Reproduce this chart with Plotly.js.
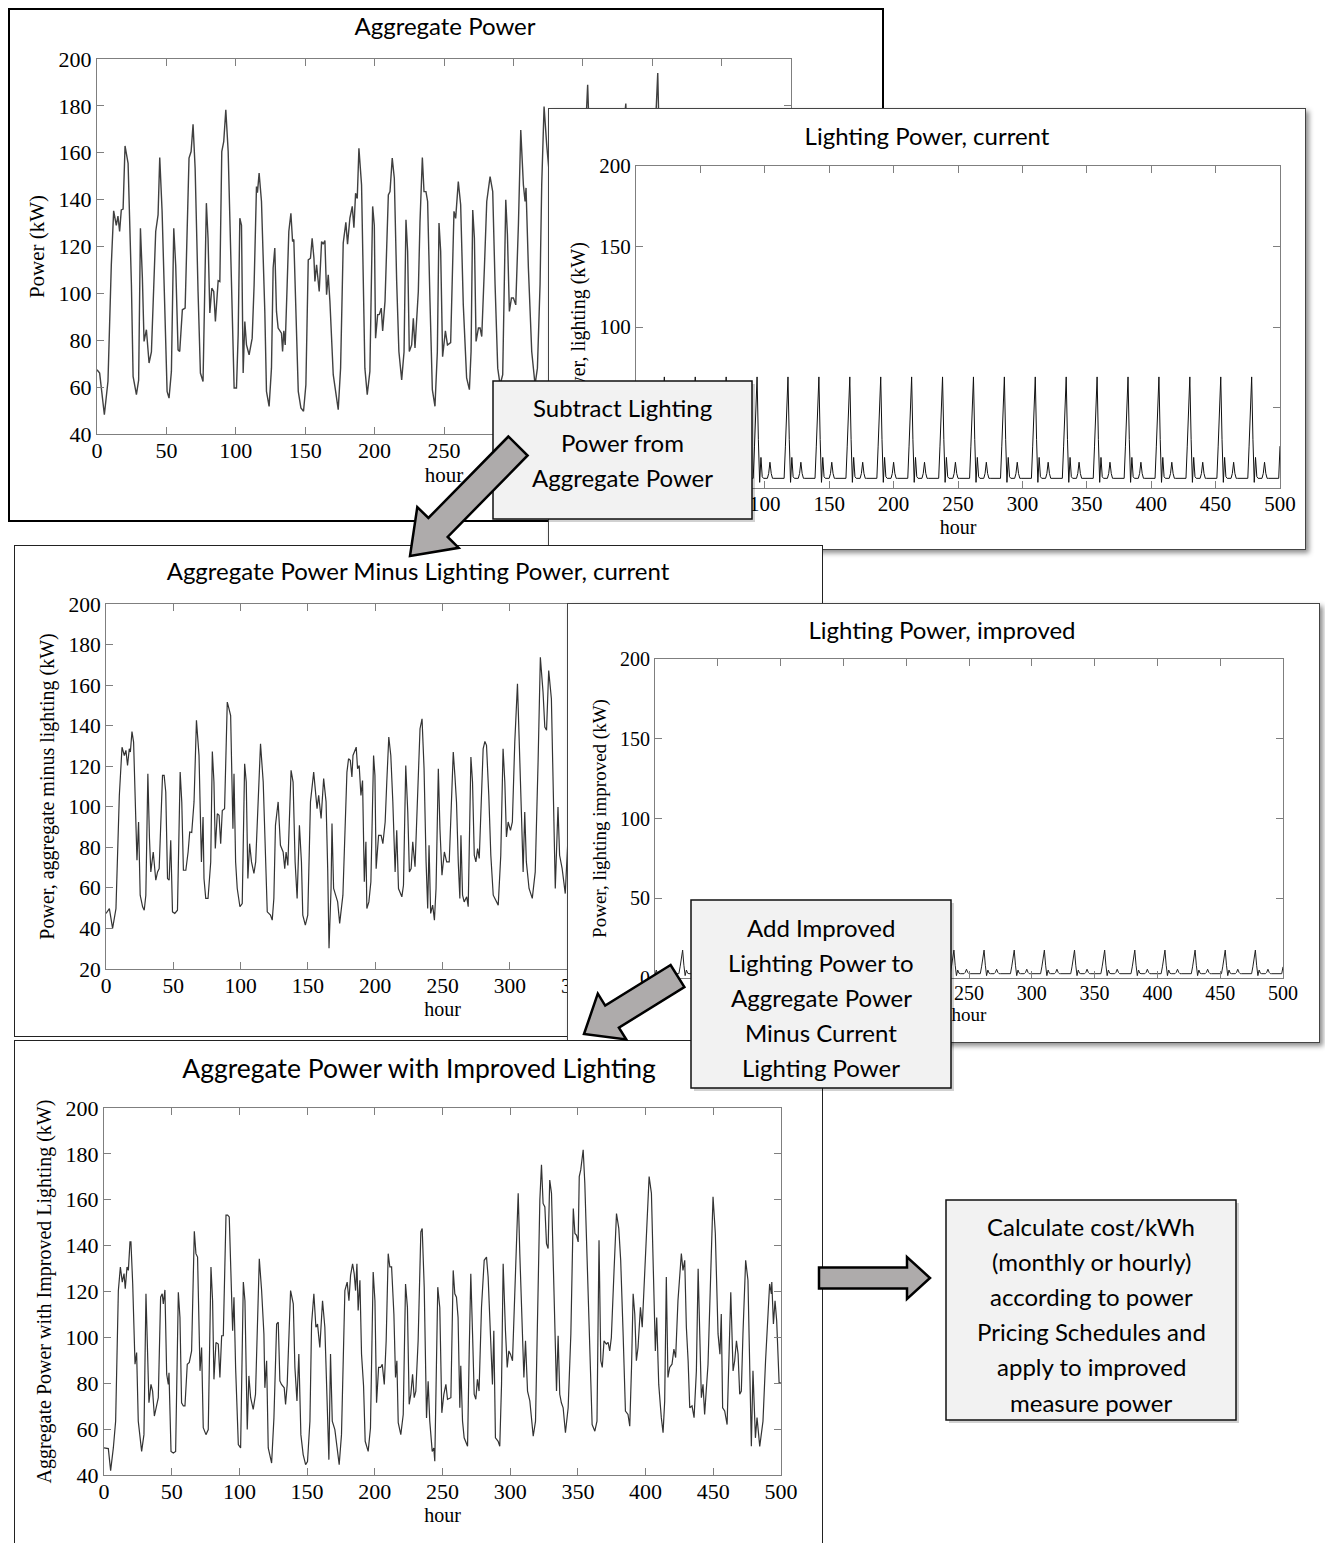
<!DOCTYPE html>
<html><head><meta charset="utf-8">
<script src="https://cdn.plot.ly/plotly-3.0.1.min.js"></script>
<style>
html,body{margin:0;padding:0;background:#fff;overflow:hidden;width:1325px;height:1543px;}
.panel{position:absolute;box-sizing:border-box;background:#fff;overflow:hidden;}
.inner{position:absolute;}
#overlay{position:absolute;left:0;top:0;width:1325px;height:1543px;z-index:50;}
</style></head><body>
<div id="w1" class="panel"><div id="p1" class="inner"></div></div>
<div id="w2" class="panel"><div id="p2" class="inner"></div></div>
<div id="w3" class="panel"><div id="p3" class="inner"></div></div>
<div id="w4" class="panel"><div id="p4" class="inner"></div></div>
<div id="w5" class="panel"><div id="p5" class="inner"></div></div>
<div id="overlay"></div>
<script>
// ---------- tick values and labels ----------
const hourTicks = [0,50,100,150,200,250,300,350,400,450,500];
const aggTicks = [40,60,80,100,120,140,160,180,200];
const minusTicks = [20,40,60,80,100,120,140,160,180,200];
const lightTicks = [0,50,100,150,200];
// labels that the reference shows (the others are covered by overlapping panels or note boxes)
const hourLabelsP1 = ["0","50","100","150","200","250","","","","",""];
const hourLabelsP2 = ["","","100","150","200","250","300","350","400","450","500"];
const lightLabelsP2 = ["","","100","150","200"];
const hourLabelsP3 = ["0","50","100","150","200","250","300","350","","",""];
const hourLabelsP4 = ["0","","","","","250","300","350","400","450","500"];
const hourLabelsP5 = ["0","50","100","150","200","250","300","350","400","450","500"];

// ---------- titles ----------
const titleAgg = "Aggregate Power";
const titleLightCur = "Lighting Power, current";
const titleMinus = "Aggregate Power Minus Lighting Power, current";
const titleLightImp = "Lighting Power, improved";
const titleImproved = "Aggregate Power with Improved Lighting";
const labelHour = "hour";
const labelAgg = "Power (kW)";
const labelLightCur = "Power, lighting (kW)";
const labelMinus = "Power, aggregate minus lighting (kW)";
const labelLightImp = "Power, lighting improved (kW)";
const labelImproved = "Aggregate Power with Improved Lighting (kW)";

// ---------- data: [hour, kW] ----------
const aggregatePower = [[0,67.4],[1.9,66],[5.3,48.2],[7.9,62.5],[10.3,112],[12,135.2],[13.9,129],[15.1,133],[16.3,126.4],[17.5,135.6],[18.8,136],[20.2,162.9],[22.4,155.5],[24.8,103.7],[26,64.6],[28.4,56.8],[30,63],[31.3,127.8],[32.7,106.5],[33.9,79.5],[35.6,84.5],[37.5,70.3],[39.2,75],[42.3,126.4],[44,133.5],[45.2,158],[46.9,134.9],[48.8,89.4],[50.5,58.2],[51.9,55.3],[53.6,66.7],[55.3,127.8],[56.7,112],[58.4,75.9],[59.6,75.2],[61.5,93],[63.5,93.7],[66.3,157.7],[67.8,160.5],[69.2,172.1],[70.7,153.4],[72.8,100.8],[74.5,66],[76.4,62.4],[78.8,138.5],[80,123.5],[81.3,91.6],[82.7,102.2],[84.1,100.8],[85.3,88],[87.3,105.4],[88.5,105],[89.9,160.5],[91.3,164.7],[92.8,178.3],[94.5,160.5],[96.9,100.8],[98.8,59.6],[100.5,59.6],[101.7,82.3],[102.9,132.1],[104.1,129],[105.3,66],[106.5,88],[107.7,78],[109.6,73.8],[111.8,80.9],[113.2,103.7],[114.9,145.6],[115.6,143],[116.8,151.3],[118.5,139.2],[120.9,92.3],[122.1,58.2],[124,51.8],[125.7,68.1],[126.9,110.8],[128.1,119.3],[129.3,92.3],[130.5,85.2],[132.9,83],[133.7,75.2],[134.6,84],[135.6,78],[137,103.7],[138.2,126.4],[139.7,134.2],[140.9,122.1],[141.8,123],[143.3,96.6],[145,58.2],[146.9,51.1],[148.8,49.7],[150.5,61],[152.2,114.3],[153.8,115],[155,123.5],[156.3,115],[157,105.1],[158.2,112.2],[160.1,100.8],[161.8,122.1],[163,121],[164.2,122.5],[165.4,99.4],[166.6,107.9],[167.8,96.6],[170.2,65.3],[173.8,50.4],[175.5,68.1],[177.4,121.5],[179.3,130.3],[180.5,121],[182.2,132.1],[183.9,137.1],[185.1,128],[186.3,142.7],[187.5,140.5],[188.7,161.9],[190.6,146.3],[193,68.1],[194.7,56.8],[196.6,66.7],[198.6,137.1],[199.8,129],[200.7,80.9],[202.2,90.9],[203.4,91],[204.8,93.7],[205.8,84],[207.5,96.6],[209.9,142],[211.1,143.4],[212.7,157.7],[214.2,149.1],[215.9,105.1],[217.5,75.2],[219.5,63.1],[221.2,75],[222.6,131.4],[223.8,117.9],[225,75.2],[226.7,78],[227.9,89.4],[229.1,76.7],[231.5,100.8],[232.7,130.5],[234.4,158],[235.6,143.4],[237,143.4],[238.2,139.2],[239.9,96.6],[241.6,58.9],[243.5,51.8],[245.2,75],[246.4,130],[247.6,118],[249,73],[251,84],[252.5,78],[254.8,79],[257.2,135],[258.4,132],[260.3,147.7],[262,137.8],[263.9,95.1],[266.3,63.9],[268.3,58.9],[269.5,75.2],[270.7,135.6],[271.9,123.5],[273.1,79.5],[274.8,85.2],[276,85.2],[277.2,81.6],[279.1,110.8],[280.8,139.2],[283.2,149.8],[285.1,143.4],[286.8,103.7],[288.7,68.1],[290.4,61],[292.3,65.3],[294.5,139.9],[295.7,125],[297.1,92.3],[298.6,98],[300,98],[301.7,95.1],[303.6,129.2],[305.3,169.7],[307.2,146.3],[308.4,139.2],[309.1,145],[310.8,110.8],[313.2,75.2],[315.6,61],[317.3,68.1],[319.2,103.7],[320.4,146.3],[322.1,179.7],[324,163.3],[326,150],[328.5,172],[331,130],[333,85],[335,70],[338,62],[341,58],[344,100],[346.5,165],[348,150],[350.5,150],[353.5,189],[356,140],[358.5,98],[361,62],[363,60],[365.5,150],[367,95],[370,105],[374,110],[378,163],[381,181],[383.5,115],[385.5,70],[388.5,62],[391,125],[393,95],[397,120],[400,140],[404,194],[406.5,125],[410,82],[413,60],[415.5,135],[417,90],[421,100],[424,105],[427,145],[430.5,170],[433,75],[436,62],[439,135],[441.5,75],[444,70],[447,110],[450,168],[453,100],[455,95],[457,70],[460,63],[463,125],[465,85],[467,105],[470,85],[474,140],[476.5,85],[478,55],[479.5,90],[481,60],[484,53],[488.5,85],[491.5,128],[493,130],[494.5,110],[497,115],[498.6,82],[500,78]];

// hourly lighting power, current (hours 0..500)
const lightingCurrent = [
3.5,19,7,6,6,6,6,9,16,9,6,6,6,6,6,6,6,6,6,6,26,48,69,30,
3.5,19,7,6,6,6,6,9,16,9,6,6,6,6,6,6,6,6,6,6,26,48,69,30,
3.5,19,7,6,6,6,6,9,16,9,6,6,6,6,6,6,6,6,6,6,26,48,69,30,
3.5,19,7,6,6,6,6,9,16,9,6,6,6,6,6,6,6,6,6,6,26,48,69,30,
3.5,19,7,6,6,6,6,9,16,9,6,6,6,6,6,6,6,6,6,6,26,48,69,30,
3.5,19,7,6,6,6,6,9,16,9,6,6,6,6,6,6,6,6,6,6,26,48,69,30,
3.5,19,7,6,6,6,6,9,16,9,6,6,6,6,6,6,6,6,6,6,26,48,69,30,
3.5,19,7,6,6,6,6,9,16,9,6,6,6,6,6,6,6,6,6,6,26,48,69,30,
3.5,19,7,6,6,6,6,9,16,9,6,6,6,6,6,6,6,6,6,6,26,48,69,30,
3.5,19,7,6,6,6,6,9,16,9,6,6,6,6,6,6,6,6,6,6,26,48,69,30,
3.5,19,7,6,6,6,6,9,16,9,6,6,6,6,6,6,6,6,6,6,26,48,69,30,
3.5,19,7,6,6,6,6,9,16,9,6,6,6,6,6,6,6,6,6,6,26,48,69,30,
3.5,19,7,6,6,6,6,9,16,9,6,6,6,6,6,6,6,6,6,6,26,48,69,30,
3.5,19,7,6,6,6,6,9,16,9,6,6,6,6,6,6,6,6,6,6,26,48,69,30,
3.5,19,7,6,6,6,6,9,16,9,6,6,6,6,6,6,6,6,6,6,26,48,69,30,
3.5,19,7,6,6,6,6,9,16,9,6,6,6,6,6,6,6,6,6,6,26,48,69,30,
3.5,19,7,6,6,6,6,9,16,9,6,6,6,6,6,6,6,6,6,6,26,48,69,30,
3.5,19,7,6,6,6,6,9,16,9,6,6,6,6,6,6,6,6,6,6,26,48,69,30,
3.5,19,7,6,6,6,6,9,16,9,6,6,6,6,6,6,6,6,6,6,26,48,69,30,
3.5,19,7,6,6,6,6,9,16,9,6,6,6,6,6,6,6,6,6,6,26,48,69,30,
3.5,19,7,6,6,6,6,9,16,9,6,6,6,6,6,6,6,6,6,6,26];

// hourly lighting power, improved (hours 0..500)
const lightingImproved = [
1.5,5,3,2.7,2.7,2.7,2.7,3.5,5.5,3.5,2.7,2.7,2.7,2.7,2.7,2.7,2.7,2.7,2.7,2.7,7,12.5,17.5,8,
1.5,5,3,2.7,2.7,2.7,2.7,3.5,5.5,3.5,2.7,2.7,2.7,2.7,2.7,2.7,2.7,2.7,2.7,2.7,7,12.5,17.5,8,
1.5,5,3,2.7,2.7,2.7,2.7,3.5,5.5,3.5,2.7,2.7,2.7,2.7,2.7,2.7,2.7,2.7,2.7,2.7,7,12.5,17.5,8,
1.5,5,3,2.7,2.7,2.7,2.7,3.5,5.5,3.5,2.7,2.7,2.7,2.7,2.7,2.7,2.7,2.7,2.7,2.7,7,12.5,17.5,8,
1.5,5,3,2.7,2.7,2.7,2.7,3.5,5.5,3.5,2.7,2.7,2.7,2.7,2.7,2.7,2.7,2.7,2.7,2.7,7,12.5,17.5,8,
1.5,5,3,2.7,2.7,2.7,2.7,3.5,5.5,3.5,2.7,2.7,2.7,2.7,2.7,2.7,2.7,2.7,2.7,2.7,7,12.5,17.5,8,
1.5,5,3,2.7,2.7,2.7,2.7,3.5,5.5,3.5,2.7,2.7,2.7,2.7,2.7,2.7,2.7,2.7,2.7,2.7,7,12.5,17.5,8,
1.5,5,3,2.7,2.7,2.7,2.7,3.5,5.5,3.5,2.7,2.7,2.7,2.7,2.7,2.7,2.7,2.7,2.7,2.7,7,12.5,17.5,8,
1.5,5,3,2.7,2.7,2.7,2.7,3.5,5.5,3.5,2.7,2.7,2.7,2.7,2.7,2.7,2.7,2.7,2.7,2.7,7,12.5,17.5,8,
1.5,5,3,2.7,2.7,2.7,2.7,3.5,5.5,3.5,2.7,2.7,2.7,2.7,2.7,2.7,2.7,2.7,2.7,2.7,7,12.5,17.5,8,
1.5,5,3,2.7,2.7,2.7,2.7,3.5,5.5,3.5,2.7,2.7,2.7,2.7,2.7,2.7,2.7,2.7,2.7,2.7,7,12.5,17.5,8,
1.5,5,3,2.7,2.7,2.7,2.7,3.5,5.5,3.5,2.7,2.7,2.7,2.7,2.7,2.7,2.7,2.7,2.7,2.7,7,12.5,17.5,8,
1.5,5,3,2.7,2.7,2.7,2.7,3.5,5.5,3.5,2.7,2.7,2.7,2.7,2.7,2.7,2.7,2.7,2.7,2.7,7,12.5,17.5,8,
1.5,5,3,2.7,2.7,2.7,2.7,3.5,5.5,3.5,2.7,2.7,2.7,2.7,2.7,2.7,2.7,2.7,2.7,2.7,7,12.5,17.5,8,
1.5,5,3,2.7,2.7,2.7,2.7,3.5,5.5,3.5,2.7,2.7,2.7,2.7,2.7,2.7,2.7,2.7,2.7,2.7,7,12.5,17.5,8,
1.5,5,3,2.7,2.7,2.7,2.7,3.5,5.5,3.5,2.7,2.7,2.7,2.7,2.7,2.7,2.7,2.7,2.7,2.7,7,12.5,17.5,8,
1.5,5,3,2.7,2.7,2.7,2.7,3.5,5.5,3.5,2.7,2.7,2.7,2.7,2.7,2.7,2.7,2.7,2.7,2.7,7,12.5,17.5,8,
1.5,5,3,2.7,2.7,2.7,2.7,3.5,5.5,3.5,2.7,2.7,2.7,2.7,2.7,2.7,2.7,2.7,2.7,2.7,7,12.5,17.5,8,
1.5,5,3,2.7,2.7,2.7,2.7,3.5,5.5,3.5,2.7,2.7,2.7,2.7,2.7,2.7,2.7,2.7,2.7,2.7,7,12.5,17.5,8,
1.5,5,3,2.7,2.7,2.7,2.7,3.5,5.5,3.5,2.7,2.7,2.7,2.7,2.7,2.7,2.7,2.7,2.7,2.7,7,12.5,17.5,8,
1.5,5,3,2.7,2.7,2.7,2.7,3.5,5.5,3.5,2.7,2.7,2.7,2.7,2.7,2.7,2.7,2.7,2.7,2.7,7];

const minusLighting = [[0,47.4],[2.5,49.8],[4.9,40],[7.4,49.8],[9.9,105.6],[11.9,129.4],[13.6,125.3],[14.8,127.8],[16,120.4],[17.3,128.6],[18.1,127],[19.3,137.1],[20.5,131.9],[21.7,102.4],[23,73.6],[24.2,92.5],[25.4,56.4],[27.2,50.7],[28.4,49],[29.6,56.4],[31.1,116.3],[32.3,84.3],[33.3,67.9],[35.1,77.7],[37,63.8],[38.3,67.9],[39.5,69.5],[42,115.5],[43.2,115.5],[44.4,107.3],[45.7,64.6],[46.9,63.8],[48.1,83.5],[49.4,48.2],[51.1,47.4],[53.1,49],[55.1,117.1],[56.3,102.4],[57.5,68.7],[59.3,68.7],[61,77.7],[62.2,87.6],[63.7,87.3],[65.4,102.4],[67.2,142.6],[69.1,125.3],[70.9,72.8],[72.1,95],[72.8,64.6],[74.1,54.8],[75.8,54.8],[77.8,72.8],[79,127.3],[80.2,112.2],[81.2,79.4],[82.7,96.6],[84,95.8],[85.2,81.8],[86.4,98.2],[88.1,99.1],[90.1,151.6],[91.4,148.3],[92.6,145],[94.3,89.2],[95.1,116.3],[96.3,72.8],[97.5,59.7],[99.5,50.7],[101.2,52.3],[103,121.2],[104.2,112.2],[105.4,64.6],[106.7,81.8],[108.1,72.8],[109.9,67.1],[111.2,72.8],[113.6,107.3],[114.8,131.1],[116.8,112.2],[118.5,72.8],[119.8,48.2],[122.2,46.6],[123.5,44.1],[124.7,54.8],[125.9,90.9],[127.9,102.4],[129.6,81],[131.6,77.7],[132.8,69.5],[133.8,77.7],[135.1,71.1],[137.5,118],[139,112.2],[140.5,72.8],[142,54.8],[143.7,90.9],[145.2,72.8],[146.2,46.6],[148.1,41.6],[149.9,46.6],[151.9,102.4],[154.3,117.1],[155.6,108.9],[156.8,99.1],[158,105.6],[159.8,94.2],[161.7,113.9],[163.5,102.4],[164.7,69.5],[165.7,30.2],[167.2,59.7],[167.9,91.7],[169.1,59.7],[172.1,53.1],[173.6,42.5],[176,56.4],[179,117.1],[180.2,123.7],[181.5,122.9],[182.7,114.7],[183.5,125.3],[184.7,127],[185.9,129.4],[186.9,118.8],[188.1,120.4],[189.4,105.6],[190.6,112.9],[191.9,63],[193.1,82.7],[193.8,49.8],[195.3,53.1],[196.8,63],[198.8,125.3],[199.8,115.5],[200.7,69.5],[202.5,85.9],[204.4,85.9],[205.7,81.8],[207.4,92.5],[208.6,112.2],[210.1,134.4],[211.6,125.3],[213.1,102.4],[214.8,67.9],[216,88.4],[217.3,59.7],[219.8,55.6],[221,61.3],[222.7,120.4],[224.2,97.4],[225.4,67.9],[226.7,69.5],[227.9,82.7],[229.6,70.4],[231.6,105.6],[233.3,138.5],[234.8,143.4],[236.3,118.8],[237.8,72.8],[239,49.8],[240,81],[241.2,47.4],[242.7,51.5],[244,44.1],[245.2,59.7],[246.9,118.8],[248.1,89.2],[249.6,66.3],[251.4,77.7],[253.1,72.8],[255,72.8],[256.3,97.4],[258,127],[259.2,115.5],[260.4,102.4],[261.7,72.8],[262.9,54.8],[263.7,86],[264.9,56.4],[266.1,53.1],[268,55.6],[269.1,50.7],[271.1,124.5],[272.3,112.2],[273.6,76.1],[274.8,72.8],[276.1,79.4],[277.3,74.5],[279,112.2],[280.2,128.6],[281.5,132.2],[282.7,130.3],[284.4,105.6],[285.9,76.1],[287.7,56.4],[289.4,54],[291.4,51.5],[293.3,76.1],[295,128.6],[296.3,112.2],[297.5,85.1],[298.8,92.5],[300.5,88.4],[301.9,92.5],[303.7,131.9],[305.7,160.6],[306.9,138.5],[308.6,97.4],[309.9,67.9],[311.1,97.4],[312.3,72.8],[314.3,59.7],[316.7,54.8],[318.9,67.9],[321,122],[322.7,173.7],[324.7,156.5],[326,139.3],[327.3,137.7],[328.9,167.2],[330.9,153.2],[332.1,109],[333.8,59.7],[335.8,99.9],[337,76.1],[338.9,69.5],[341.2,57.2],[344,95],[346.5,150],[348,140],[351,165],[354,176],[356,125],[359,88],[361,57],[363,56],[365.5,138],[367,85],[371,95],[375,105],[378.5,150],[381,138],[383.5,95],[385.5,63],[388.5,56],[391,115],[393,86],[396,108],[399.5,126],[402.5,165],[405,140],[407.5,105],[410,75],[413,54],[415.5,122],[417,78],[421,90],[424,100],[426.5,132],[430,95],[433,64],[436,56],[439,125],[441.5,69],[444,66],[447,95],[450,157],[453,95],[455,88],[457,65],[460,57],[463,115],[465,78],[467,94],[470,78],[474,129],[476.5,80],[478,48],[479.5,80],[481,55],[484,48],[488.5,80],[491.5,119],[493,121],[494.5,101],[497,105],[498.6,76],[500,72]];

const improvedPower = [[0,51.8],[3.2,51.5],[4.9,41.9],[6.9,51.8],[8.6,63.5],[10.6,120.4],[12.1,130.7],[13.5,124.1],[14.8,127.8],[15.7,121.2],[17,130.7],[18,129.2],[19.2,141.6],[19.9,141.6],[21.2,123.4],[22.9,88.3],[24.1,93.4],[25.3,63.5],[27.8,50.3],[29.5,57.6],[31,119],[32.2,89.8],[33.2,71.5],[34.7,79.5],[35.9,76.6],[37.2,65.7],[38.9,70.1],[40.1,73.7],[41.8,117.5],[43,119],[43.8,114.6],[45,120.7],[46.3,83.9],[47.5,79.5],[48,84.6],[49.5,50.3],[51.2,49.6],[52.9,50.3],[54.9,119.7],[56.1,108.7],[57.3,71.5],[58.6,70.1],[59.8,70.1],[61.5,88.3],[63,89.1],[64.7,94.1],[66.7,146.3],[67.9,136.5],[69.1,135],[70.9,85.4],[72.1,95.6],[73.3,60.6],[75.3,57.6],[77,59.8],[79,130.7],[80.2,116],[81.2,81.7],[82.7,97.8],[84.4,97.1],[85.6,82.5],[86.9,100.7],[88.1,100.7],[90.1,153.3],[91.3,153.3],[92.5,152.5],[94.2,116],[95,102.9],[96,117.5],[97.2,86.9],[99.2,53.3],[100.9,51.8],[102.9,124.1],[104.1,116],[105.8,59.8],[107,83.2],[108.3,73.7],[110.2,68.6],[111.9,75.2],[114.7,134.3],[116.4,120.4],[118.1,101.5],[118.8,78],[120.1,89.8],[121.3,51.8],[123.8,45.2],[125.5,64.9],[127.5,105.8],[128.7,106.6],[129.9,81],[131.1,79.5],[133.1,78],[134.1,70.8],[135.3,79.5],[137.8,120.4],[139.8,114.6],[141,86.9],[142.5,72.3],[143.9,92.7],[145.4,57.6],[147.1,48.9],[148.9,44.5],[150.3,45.9],[152.1,63.5],[153.3,105.8],[155,119],[156.5,104.4],[157.7,105.8],[159.4,95.6],[161.4,116],[163.1,104.4],[164.9,75.2],[166.1,46.7],[167.3,92.7],[168.6,63.5],[170.5,59.8],[172.2,51.8],[173.7,44.5],[175.4,57.6],[177.9,120.4],[179.6,124.1],[180.9,116],[182.1,127],[183.6,132.1],[184.8,127.7],[185.8,120.4],[186.8,132.1],[187.7,111.7],[189,124.9],[190.2,92.7],[191.7,78.8],[192.9,54.7],[195.1,50.3],[196.8,60.5],[198.8,128.5],[200.1,116],[201.3,71.5],[202.8,86.9],[204.3,86.9],[205.5,88.3],[207,79.5],[208.4,98.5],[209.9,136.5],[211.1,130.7],[212.4,130.7],[214.1,110.2],[215.3,82.5],[216.3,89.8],[217.3,62.8],[219.2,57.6],[221,66.4],[222.7,123.3],[224.1,113.1],[225.4,70.8],[226.6,75.2],[227.9,83.9],[229.1,73.7],[230.3,76.6],[232,98.5],[234,146],[235,147.5],[236.5,121.9],[238.2,64.9],[239.4,80.9],[240.6,63.5],[242.4,50.3],[243.6,51.8],[244.3,46],[246.5,121.9],[248,112.9],[249.5,67.1],[251,75.2],[252.5,79.5],[253.7,73],[256.2,73.7],[257.9,129.2],[259.1,119],[260.3,117.5],[261.5,108.7],[262.8,69.3],[263.5,87.6],[264.8,63.5],[266,56.2],[267.2,54.7],[268.5,52.5],[269.7,92.7],[270.9,127.7],[272.2,101.5],[273.4,75.2],[274.6,73],[275.8,81.7],[277,76.6],[278.8,113.1],[280.8,133.6],[282.5,135],[283.7,126.3],[285.5,98.5],[286.9,79.5],[287.9,102.9],[289.1,56.2],[291.1,54.7],[292.3,52.5],[293.6,79.5],[294.8,132.1],[296.5,102.9],[297.8,86.9],[299,94.1],[300.2,92.7],[301.7,89.8],[303,113.1],[304.4,142.3],[305.9,162.8],[307.1,136.5],[308.9,98.5],[310.1,82.5],[311.3,98.5],[312.8,76.6],[314.5,72.3],[315.7,64.9],[317,56.9],[318.7,63.5],[320.6,116],[321.9,159.9],[323.1,175.2],[324.3,158.4],[325.6,156.9],[326.8,140.9],[328,138.7],[329.2,168.6],[330.5,162.8],[331.7,137.9],[332.9,101.5],[334.2,76.6],[335.4,100.7],[336.6,75.2],[337.8,71.5],[339.1,69.3],[340.8,58.4],[342.8,69.3],[344.8,101.5],[346.6,156.2],[347.8,145.3],[349,144.5],[350.2,141.6],[351,170.1],[352.1,173],[353.9,181.8],[355.1,167.2],[357.1,130.7],[358.8,94.1],[360.5,62],[362.5,59.1],[364.1,63.5],[365.6,142.3],[366.9,89.8],[368,86.9],[369.3,98.5],[371,97.1],[372.3,97.8],[373.5,94.1],[374.7,99.9],[376.8,130.7],[378.5,154],[380.2,147.5],[381.6,133.6],[383.4,101.5],[385.1,67.9],[387,66.4],[388.3,61.3],[389.6,86.9],[390.8,119],[392,110.2],[393.2,89.8],[394.4,95.6],[396.2,113.1],[397.5,104.4],[399.4,130.7],[401.1,154],[402.6,170.1],[404.3,162.8],[406.1,116],[407.2,94.1],[408.2,108.7],[409.7,79.5],[411.6,65],[412.9,58.4],[414.1,72.3],[415.3,126.3],[416.5,82.5],[417.8,86.9],[419.5,88.3],[420.9,94.9],[422.2,91.2],[423.9,116],[426.4,136.5],[427.6,129.2],[428.9,133.6],[430.1,104.4],[431.4,89.8],[432.6,69.3],[434.3,70.1],[435.8,65],[437.5,85.4],[438.8,129.9],[440,101.5],[441.2,73.7],[442.4,79.5],[443.6,66.4],[446.1,88.3],[447.9,121.9],[449.8,161.3],[451.5,145.3],[453.5,101.5],[454.9,92.7],[455.9,110.2],[456.9,69.3],[458.4,67.9],[460.2,62],[461.4,86.9],[462.9,119.7],[464.6,85.4],[465.8,89.8],[467.1,98.5],[468.3,92.7],[469.5,75.2],[470.7,76.6],[471.9,101.5],[473.9,133.6],[475.6,124.9],[476.9,86.9],[478.1,52.5],[479.3,85.4],[481.1,56.2],[482.3,65],[484.3,52.5],[486.7,63.5],[488.6,89.8],[491.6,123.3],[492.9,118.9],[493.2,124.1],[494.4,105.8],[495.6,116],[496.8,107.3],[498.6,80.3],[500,80]];

// ---------- drawing ----------
const SERIF = "Liberation Serif, Times New Roman, serif";
const SANS = "Lato, Noto Sans, sans-serif";
const AXC = "#7f7f7f";

function axis(range, ticks, labels, fs, tfs, titleText, standoff, labelShift) {
  return {
    range: range, tickvals: ticks, ticktext: labels, ticks: "inside", ticklen: 7, tickwidth: 1, tickcolor: AXC,
    ticklabelstandoff: labelShift,
    showline: true, linecolor: AXC, linewidth: 1, mirror: "allticks",
    showgrid: false, zeroline: false, fixedrange: true,
    tickfont: {family: SERIF, size: fs, color: "#000"},
    title: {text: titleText, font: {family: SERIF, size: tfs, color: "#000"}, standoff: standoff}
  };
}

function panel(c) {
  const w = document.getElementById(c.wrap);
  w.style.left = c.left + "px"; w.style.top = c.top + "px";
  w.style.width = c.w + "px"; w.style.height = c.h + "px";
  w.style.border = c.bw + "px solid " + c.bc;
  w.style.zIndex = c.z;
  if (c.shadow) w.style.boxShadow = c.shadow;
  const el = document.getElementById(c.id);
  el.style.left = (-c.bw) + "px"; el.style.top = (-c.bw) + "px";
  const pl = c.plot; // [x0,x1,y0,y1] in page px
  const layout = {
    width: c.w, height: c.h,
    margin: {l: pl[0] - c.left, r: c.left + c.w - pl[1], t: pl[2] - c.top, b: c.top + c.h - pl[3], pad: 0},
    paper_bgcolor: "#fff", plot_bgcolor: "#fff", showlegend: false,
    title: {text: c.title, font: {family: SANS, size: c.tfs, color: "#000"},
            xref: "container", x: (c.tx - c.left) / c.w, xanchor: "center",
            yref: "container", y: 1 - (c.ty - c.top) / c.h, yanchor: "middle"},
    xaxis: axis([0, 500], hourTicks, c.xl, c.fs, c.afs, labelHour, c.xs, -3),
    yaxis: axis(c.yr, c.yt, c.yl, c.fs, c.afs, c.ylab, c.ys, 0)
  };
  Plotly.newPlot(el, [{x: c.x, y: c.y, type: "scatter", mode: "lines",
    line: {color: c.lc, width: c.lw}, hoverinfo: "skip"}], layout,
    {displayModeBar: false, staticPlot: true});
}

const idx = a => a.map((_, i) => i);
const str = a => a.map(String);

panel({wrap: "w1", id: "p1", left: 8, top: 8, w: 876, h: 514, bw: 2, bc: "#000", z: 1,
  plot: [97, 791, 59, 434], title: titleAgg, tfs: 24, tx: 445, ty: 27, fs: 22, afs: 21,
  yr: [40, 200], yt: aggTicks, yl: str(aggTicks), xl: hourLabelsP1, ylab: labelAgg, xs: 2, ys: 8,
  x: aggregatePower.map(p => p[0]), y: aggregatePower.map(p => p[1]), lc: "#404040", lw: 1.4});

panel({wrap: "w2", id: "p2", left: 548, top: 108, w: 758, h: 442, bw: 1, bc: "#444", z: 2,
  shadow: "3px 3px 5px rgba(0,0,0,0.45)",
  plot: [636, 1280, 166, 488], title: titleLightCur, tfs: 24, tx: 927, ty: 137, fs: 21, afs: 20,
  yr: [0, 200], yt: lightTicks, yl: lightLabelsP2, xl: hourLabelsP2, ylab: labelLightCur, xs: 2, ys: 8,
  x: idx(lightingCurrent), y: lightingCurrent, lc: "#111", lw: 1});

panel({wrap: "w3", id: "p3", left: 14, top: 545, w: 809, h: 492, bw: 1, bc: "#222", z: 3,
  plot: [106, 779, 604, 969], title: titleMinus, tfs: 24, tx: 418, ty: 572, fs: 21.5, afs: 20,
  yr: [20, 200], yt: minusTicks, yl: str(minusTicks), xl: hourLabelsP3, ylab: labelMinus, xs: 2, ys: 8,
  x: minusLighting.map(p => p[0]), y: minusLighting.map(p => p[1]), lc: "#333", lw: 1.2});

panel({wrap: "w4", id: "p4", left: 567, top: 603, w: 753, h: 440, bw: 1, bc: "#444", z: 4,
  shadow: "3px 3px 5px rgba(0,0,0,0.45)",
  plot: [655, 1283, 659, 978], title: titleLightImp, tfs: 24, tx: 942, ty: 631, fs: 20, afs: 19,
  yr: [0, 200], yt: lightTicks, yl: str(lightTicks), xl: hourLabelsP4, ylab: labelLightImp, xs: 2, ys: 8,
  x: idx(lightingImproved), y: lightingImproved, lc: "#222", lw: 1});

panel({wrap: "w5", id: "p5", left: 14, top: 1040, w: 809, h: 530, bw: 1, bc: "#222", z: 5,
  plot: [104, 781, 1108, 1475], title: titleImproved, tfs: 26.5, tx: 419, ty: 1069, fs: 22, afs: 20,
  yr: [40, 200], yt: aggTicks, yl: str(aggTicks), xl: hourLabelsP5, ylab: labelImproved, xs: 2, ys: 8,
  x: improvedPower.map(p => p[0]), y: improvedPower.map(p => p[1]), lc: "#333", lw: 1.2});

// ---------- overlay: note boxes and arrows ----------
function blockArrow(tx, ty, hx, hy, sw, hw, hl) {
  const L = Math.hypot(hx - tx, hy - ty), ux = (hx - tx) / L, uy = (hy - ty) / L;
  const nx = -uy, ny = ux, bx = hx - ux * hl, by = hy - uy * hl;
  const pts = [[tx + nx * sw, ty + ny * sw], [bx + nx * sw, by + ny * sw], [bx + nx * hw, by + ny * hw],
    [hx, hy], [bx - nx * hw, by - ny * hw], [bx - nx * sw, by - ny * sw], [tx - nx * sw, ty - ny * sw]];
  return "M" + pts.map(p => p[0].toFixed(1) + "," + p[1].toFixed(1)).join(" L") + " Z";
}
const ARROWFILL = "#aeabab";
function box(x0, y0, x1, y1) {
  return [
    {type: "rect", xref: "x", yref: "y", x0: x0 + 3, y0: y0 + 3, x1: x1 + 3, y1: y1 + 3,
     fillcolor: "rgba(0,0,0,0.18)", line: {width: 0}},
    {type: "rect", xref: "x", yref: "y", x0: x0, y0: y0, x1: x1, y1: y1,
     fillcolor: "#f2f2f2", line: {color: "#111", width: 1.5}}
  ];
}
function arrow(d) {
  return {type: "path", xref: "x", yref: "y", path: d, fillcolor: ARROWFILL, line: {color: "#000", width: 2.5}};
}
const note1 = ["Subtract Lighting", "Power from", "Aggregate Power"];
const note2 = ["Add Improved", "Lighting Power to", "Aggregate Power", "Minus Current", "Lighting Power"];
const note3 = ["Calculate cost/kWh", "(monthly or hourly)", "according to power", "Pricing Schedules and", "apply to improved", "measure power"];

const shapes = [].concat(
  box(493, 381, 752, 519),
  [arrow(blockArrow(518, 446, 410, 556, 13.5, 29, 40))],
  box(691, 900, 951, 1088),
  [arrow(blockArrow(677.5, 976, 584, 1034, 13, 27, 33))],
  [arrow(blockArrow(819, 1278, 930, 1278, 10.5, 21, 23))],
  box(946, 1200, 1236, 1420)
);
const ann = [];
function lines(arr, cx, y0, dy) {
  arr.forEach((t, i) => ann.push({x: cx, y: y0 + i * dy, xref: "x", yref: "y", text: t, showarrow: false,
    xanchor: "center", yanchor: "middle", font: {family: SANS, size: 24, color: "#000"}}));
}
lines(note1, 622, 407, 35);
lines(note2, 821, 927, 35);
lines(note3, 1091, 1226, 35.2);

Plotly.newPlot("overlay", [], {
  width: 1325, height: 1543, margin: {l: 0, r: 0, t: 0, b: 0, pad: 0},
  paper_bgcolor: "rgba(0,0,0,0)", plot_bgcolor: "rgba(0,0,0,0)",
  xaxis: {range: [0, 1325], visible: false, fixedrange: true},
  yaxis: {range: [1543, 0], visible: false, fixedrange: true},
  shapes: shapes, annotations: ann, showlegend: false
}, {displayModeBar: false, staticPlot: true});
</script>
</body></html>
